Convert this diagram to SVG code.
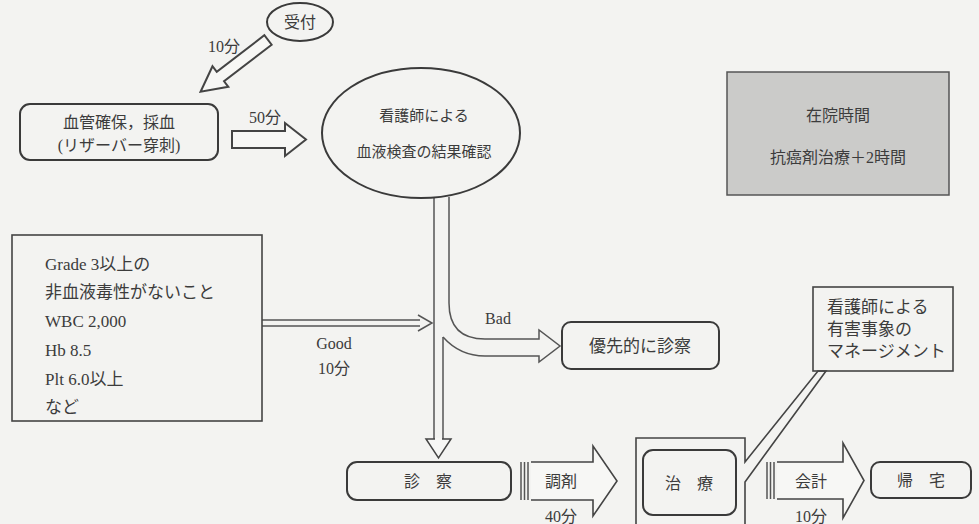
<svg xmlns="http://www.w3.org/2000/svg" width="979" height="524" viewBox="0 0 979 524">
<style>
.bg{fill:#f3f3f1}
.ln{fill:none;stroke:#3a3a3a;stroke-width:2}
.tl{fill:none;stroke:#555;stroke-width:1.5}
.ha{fill:#f7f7f5;stroke:#444;stroke-width:2;stroke-linejoin:miter}
text{font-family:"Liberation Serif","Noto Sans CJK JP",serif;fill:#3c3c3c;font-size:16px}
.c{text-anchor:middle;dominant-baseline:central}
.l{dominant-baseline:central}
</style>
<rect class="bg" x="0" y="0" width="979" height="524"/>
<g id="connectors">
  <!-- 受付 to 血管確保 -->
  <polygon class="ha" transform="translate(268,40) rotate(142.5)" points="0,-6 60,-6 60,-13 85,0 60,13 60,6 0,6"/>
  <text class="c" x="224" y="46">10分</text>
  <!-- 50分 arrow -->
  <polygon class="ha" points="232,131 285,131 285,123 306,139.5 285,156 285,148 232,148"/>
  <text class="c" x="265" y="117">50分</text>
  <!-- Good arrow -->
  <polyline class="tl" points="262,320 420,320"/>
  <polyline class="tl" points="262,326 420,326"/>
  <polyline class="tl" points="418,315 432,323 418,331"/>
  <text class="c" x="334" y="343">Good</text>
  <text class="c" x="334" y="368">10分</text>
  <!-- vertical shaft from ellipse -->
  <polyline class="tl" points="434,197 434,439"/>
  <polyline class="tl" points="443,439 443,337"/>
  <polygon class="ha" style="stroke-width:1.5" points="426,439 451,439 438.5,458"/>
  <line x1="435" y1="439" x2="442" y2="439" stroke="#f7f7f5" stroke-width="2"/>
  <!-- Bad branch -->
  <path class="tl" d="M449,197 L449,303 Q449,339 485,339 L539,339 L539,330 L560,346 L539,362 L539,356 L485,356 Q460,356 443,337"/>
  <text class="c" x="498" y="318">Bad</text>
  <!-- 調剤 arrow -->
  <line class="tl" x1="521" y1="462" x2="521" y2="500"/>
  <line class="tl" x1="524.5" y1="462" x2="524.5" y2="500"/>
  <line class="tl" x1="528" y1="462" x2="528" y2="500"/>
  <polyline class="ha" style="stroke-width:1.6" points="531,462 593,462 593,446 617,481 593,516 593,500 531,500"/>
  <text class="c" x="561" y="481">調剤</text>
  <text class="c" x="561" y="516">40分</text>
  <!-- 会計 arrow -->
  <line class="tl" x1="767" y1="462" x2="767" y2="499"/>
  <line class="tl" x1="770.5" y1="462" x2="770.5" y2="499"/>
  <line class="tl" x1="774" y1="462" x2="774" y2="499"/>
  <polyline class="ha" style="stroke-width:1.6" points="777,462 843,462 843,443 864,480.5 843,518 843,499 777,499"/>
  <text class="c" x="811" y="481">会計</text>
  <text class="c" x="811" y="516">10分</text>
</g>
<g id="uketsuke">
  <ellipse class="ln" cx="300" cy="22" rx="33" ry="19"/>
  <text class="c" x="300" y="22">受付</text>
</g>
<g id="saiketsu">
  <rect class="ln" x="20" y="104" width="198" height="56" rx="10"/>
  <text class="c" x="119" y="122">血管確保，採血</text>
  <text class="c" x="119" y="145">(リザーバー穿刺)</text>
</g>
<g id="kekka">
  <ellipse class="ln" cx="421" cy="133" rx="99" ry="65"/>
  <text class="c" x="424" y="116" style="font-size:15px">看護師による</text>
  <text class="c" x="424" y="152" style="font-size:15px">血液検査の結果確認</text>
</g>
<g id="zaiin">
  <rect x="727" y="72" width="222" height="123" fill="#cbcbc9" stroke="#555" stroke-width="1.5"/>
  <text class="c" x="838" y="115">在院時間</text>
  <text class="c" x="838" y="157">抗癌剤治療＋2時間</text>
</g>
<g id="kijun">
  <rect x="12" y="235" width="250" height="186" fill="none" stroke="#444" stroke-width="1.6"/>
  <text class="l" x="45" y="264" style="font-size:17px">Grade 3以上の</text>
  <text class="l" x="45" y="292" style="font-size:17px">非血液毒性がないこと</text>
  <text class="l" x="45" y="321" style="font-size:17px">WBC 2,000</text>
  <text class="l" x="45" y="350" style="font-size:17px">Hb 8.5</text>
  <text class="l" x="45" y="379" style="font-size:17px">Plt 6.0以上</text>
  <text class="l" x="45" y="407" style="font-size:17px">など</text>
</g>
<g id="yusen">
  <rect class="ln" x="562" y="322" width="157" height="47" rx="9"/>
  <text class="c" x="640" y="346" style="font-size:17px">優先的に診察</text>
</g>
<g id="management">
  <rect x="813" y="287" width="140" height="84" fill="none" stroke="#444" stroke-width="1.6"/>
  <text class="l" x="827" y="307" style="font-size:17px">看護師による</text>
  <text class="l" x="827" y="329" style="font-size:17px">有害事象の</text>
  <text class="l" x="827" y="351" style="font-size:17px">マネージメント</text>
</g>
<g id="shinsatsu">
  <rect class="ln" x="347" y="462" width="164" height="38" rx="10"/>
  <text class="c" x="428" y="481">診　察</text>
</g>
<g id="chiryo">
  <polyline fill="none" stroke="#444" stroke-width="1.6" points="636,530 636,438 745,438 745,462 818,371 826,371 745,482 745,530"/>
  <rect class="ln" x="643" y="450" width="93" height="65" rx="10"/>
  <text class="c" x="689" y="483">治　療</text>
</g>
<g id="kitaku">
  <rect class="ln" x="871" y="462" width="100" height="36" rx="9"/>
  <text class="c" x="921" y="480">帰　宅</text>
</g>
</svg>
